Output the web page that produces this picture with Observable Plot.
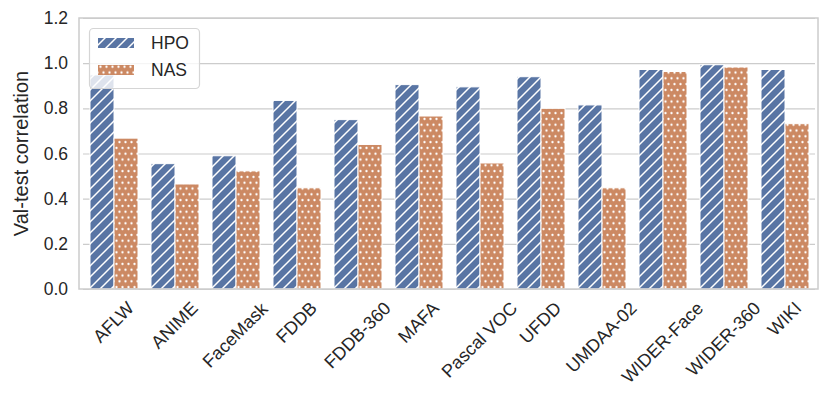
<!DOCTYPE html>
<html>
<head>
<meta charset="utf-8">
<script src="https://cdn.jsdelivr.net/npm/d3@7"></script>
<script src="https://cdn.jsdelivr.net/npm/@observablehq/plot@0.6"></script>
<style>
  html, body { margin: 0; padding: 0; background: white; }
  body { width: 830px; height: 408px; overflow: hidden; }
</style>
</head>
<body>
<script>
const datasets = ["AFLW", "ANIME", "FaceMask", "FDDB", "FDDB-360", "MAFA", "Pascal VOC", "UFDD", "UMDAA-02", "WIDER-Face", "WIDER-360", "WIKI"];
const series = ["HPO", "NAS"];
const hpoValues = [0.948, 0.555, 0.59, 0.835, 0.75, 0.905, 0.895, 0.94, 0.815, 0.972, 0.993, 0.972];
const nasValues = [0.668, 0.465, 0.523, 0.448, 0.64, 0.766, 0.558, 0.80, 0.448, 0.963, 0.983, 0.732];
const yTicks = [0, 0.2, 0.4, 0.6, 0.8, 1.0, 1.2];
const yLabel = "Val-test correlation";

const rows = datasets.flatMap((d, i) => [
  {dataset: d, series: series[0], value: hpoValues[i]},
  {dataset: d, series: series[1], value: nasValues[i]}
]);

const blue = "#5975a4", orange = "#cc8963", gridColor = "#cccccc", textColor = "#262626";

const plot = Plot.plot({
  width: 830,
  height: 408,
  marginLeft: 79,
  marginRight: 12,
  marginTop: 18,
  marginBottom: 119,
  style: {fontFamily: "'Liberation Sans', Arial, sans-serif", fontSize: "18px", color: textColor, background: "white", overflow: "visible"},
  fx: {domain: datasets, paddingInner: 0, paddingOuter: 0, label: null},
  x: {domain: series, paddingInner: 0, paddingOuter: 0.25, axis: null},
  y: {domain: [0, 1.2], ticks: yTicks},
  marks: [
    Plot.gridY(yTicks, {stroke: gridColor, strokeOpacity: 1, strokeWidth: 1.2}),
    Plot.barY(rows.filter(r => r.series === series[0]), {fx: "dataset", x: "series", y: "value", fill: "url(#hatch-hpo)", stroke: "white", strokeWidth: 1}),
    Plot.barY(rows.filter(r => r.series === series[1]), {fx: "dataset", x: "series", y: "value", fill: "url(#dots-nas)", stroke: "white", strokeWidth: 1}),
    Plot.axisY(yTicks, {tickSize: 0, tickPadding: 15.5, tickFormat: d3.format(".1f"), fontSize: 17.5, label: null, fill: textColor}),
    Plot.axisFx({tickSize: 0, tickRotate: -45, textAnchor: "middle", fontSize: 18, label: null, fill: textColor})
  ]
});

document.body.append(plot);
const svg = d3.select(plot);

// patterns
const defs = svg.insert("defs", ":first-child");
const p1 = defs.append("pattern").attr("id", "hatch-hpo").attr("patternUnits", "userSpaceOnUse")
  .attr("width", 11).attr("height", 11);
p1.append("rect").attr("width", 11).attr("height", 11).attr("fill", blue);
p1.append("path").attr("d", "M0,11L11,0M-3,3L3,-3M8,14L14,8").attr("stroke", "white").attr("stroke-width", 1.5);
const p2 = defs.append("pattern").attr("id", "dots-nas").attr("patternUnits", "userSpaceOnUse")
  .attr("width", 6).attr("height", 11.6);
p2.append("rect").attr("width", 6).attr("height", 11.6).attr("fill", orange);
p2.append("circle").attr("cx", 1.5).attr("cy", 2.9).attr("r", 1.15).attr("fill", "white");
p2.append("circle").attr("cx", 4.5).attr("cy", 8.7).attr("r", 1.15).attr("fill", "white");

const fxs = plot.scale("fx"), ys = plot.scale("y");
const x0 = fxs.range[0], x1 = fxs.range[1];
const yb = ys.apply(0), yt = ys.apply(1.2);

// frame (spines)
svg.append("rect").attr("x", x0).attr("y", yt).attr("width", x1 - x0).attr("height", yb - yt)
  .attr("fill", "none").attr("stroke", gridColor).attr("stroke-width", 1.5);

// adjust rotated x tick labels: center rotated bbox under tick, top aligned
const sr = plot.getBoundingClientRect();
svg.selectAll('g[aria-label="fx-axis tick label"] text').each(function() {
  const label = this.textContent;
  const tx = fxs.apply(label) + fxs.bandwidth / 2;
  const r = this.getBoundingClientRect();
  const cx = (r.left + r.right) / 2 - sr.left;
  const top = r.top - sr.top;
  const dx = tx - cx, dy = (yb + 9) - top;
  this.setAttribute("transform", `translate(${dx},${dy}) ` + (this.getAttribute("transform") || ""));
});

// y axis label
svg.append("text").attr("transform", `translate(27.5,${(yb + yt) / 2}) rotate(-90)`)
  .attr("text-anchor", "middle").attr("font-size", 20).attr("fill", textColor).text(yLabel);

// legend
const lg = svg.append("g").attr("font-size", 17.5).attr("fill", textColor).attr("text-anchor", "start");
lg.append("rect").attr("x", x0 + 10.5).attr("y", yt + 10.5).attr("width", 110).attr("height", 60).attr("rx", 4)
  .attr("fill", "white").attr("fill-opacity", 0.8).attr("stroke", "#d5d5d5").attr("stroke-width", 1.2);
[["url(#hatch-hpo)", series[0]], ["url(#dots-nas)", series[1]]].forEach(([f, name], i) => {
  const cy = yt + 25 + i * 27;
  lg.append("rect").attr("x", x0 + 19).attr("y", cy - 5).attr("width", 36).attr("height", 10).attr("fill", f);
  lg.append("text").attr("x", x0 + 72).attr("y", cy).attr("dy", "0.36em").text(name);
});
</script>
</body>
</html>
